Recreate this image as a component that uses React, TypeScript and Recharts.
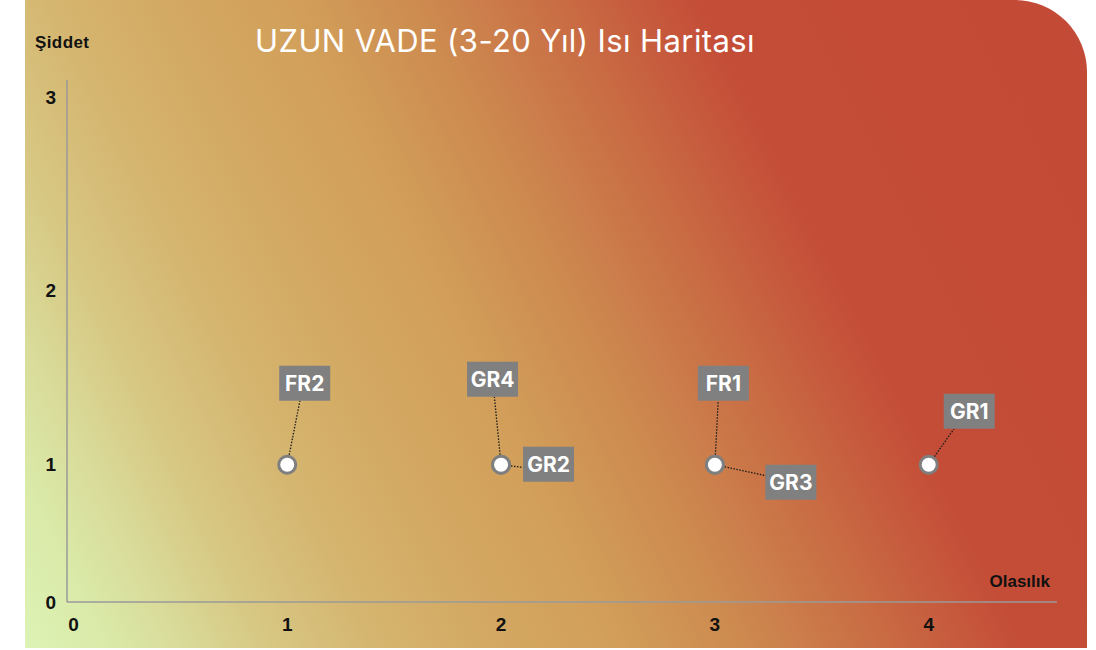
import React from 'react';
import { ScatterChart, Scatter, XAxis, YAxis } from 'recharts';

const riskCodes = ['FR2', 'GR4', 'GR2', 'FR1', 'GR3', 'GR1'];
const olasilik = [1, 2, 2, 3, 3, 4];
const siddet = [1, 1, 1, 1, 1, 1];
const xTicks = [0, 1, 2, 3, 4];
const yTicks = [0, 1, 2, 3];

const points = riskCodes.map((code, i) => ({ code, x: olasilik[i], y: siddet[i] }));

// label box offsets from the point centre (box centre + leader anchor)
const LABEL_POS: Record<string, { dx: number; dy: number; ax: number; ay: number }> = {
  FR2: { dx: 17.5, dy: -81.5, ax: 12.7, ay: -64 },
  GR4: { dx: -8.5, dy: -85.5, ax: -6.7, ay: -68 },
  GR2: { dx: 47.5, dy: -0.5, ax: 22, ay: 2.7 },
  FR1: { dx: 8.5, dy: -81.5, ax: 3.3, ay: -64 },
  GR3: { dx: 76, dy: 17.5, ax: 51.3, ay: 11 },
  GR1: { dx: 40.5, dy: -53.5, ax: 25.3, ay: -36 },
};

const AXIS_FONT = '"Liberation Sans", Arial, sans-serif';

/** small d3-like power scale (the y axis is stretched towards the top) */
function powScale(exponent: number, dom: number[] = [0, 1], rng: number[] = [0, 1]): any {
  let d = [...dom];
  let r = [...rng];
  const f = (v: number) => Math.sign(v) * Math.pow(Math.abs(v), exponent);
  const fi = (v: number) => Math.sign(v) * Math.pow(Math.abs(v), 1 / exponent);
  const scale: any = (v: number) => {
    const t = (f(v) - f(d[0])) / (f(d[1]) - f(d[0]));
    return r[0] + t * (r[1] - r[0]);
  };
  scale.domain = (x?: number[]) => {
    if (!x) return [...d];
    d = [...x];
    return scale;
  };
  scale.range = (x?: number[]) => {
    if (!x) return [...r];
    r = [...x];
    return scale;
  };
  scale.invert = (y: number) => {
    const t = (y - r[0]) / (r[1] - r[0]);
    return fi(f(d[0]) + t * (f(d[1]) - f(d[0])));
  };
  scale.ticks = () => yTicks;
  scale.copy = () => powScale(exponent, d, r);
  return scale;
}

const yScale = powScale(1.185);

function RiskPoint(props: any) {
  const { cx, cy, payload } = props;
  const pos = LABEL_POS[payload.code];
  const len = Math.hypot(pos.ax, pos.ay);
  const sx = cx + (pos.ax / len) * 10;
  const sy = cy + (pos.ay / len) * 10;
  return (
    <g>
      <line
        x1={sx}
        y1={sy}
        x2={cx + pos.ax}
        y2={cy + pos.ay}
        stroke="#1a1a1a"
        strokeWidth={1.3}
        strokeDasharray="1.5 1.5"
      />
      <rect x={cx + pos.dx - 25.5} y={cy + pos.dy - 17.5} width={51} height={35} fill="#808080" />
      <text
        x={cx + pos.dx}
        y={cy + pos.dy}
        dy="0.36em"
        textAnchor="middle"
        fill="#fff"
        fontSize={21}
        fontWeight={700}
        fontFamily="Inter, sans-serif"
      >
        {payload.code}
      </text>
      <circle cx={cx} cy={cy} r={8.5} fill="#fff" stroke="#7f7f7f" strokeWidth={3} />
    </g>
  );
}

export default function App() {
  const tickStyle = { fill: '#111', fontSize: 19, fontWeight: 700, fontFamily: AXIS_FONT };
  const axisLine = { stroke: '#9a9a9a', strokeWidth: 1.5 };
  return (
    <div style={{ position: 'absolute', left: 0, top: 0, width: 1096, height: 650 }}>
      <div
        style={{
          position: 'absolute',
          left: 25,
          top: 0,
          width: 1062,
          height: 648,
          borderTopRightRadius: 72,
          background:
            'linear-gradient(63.4deg, #dcf3b5 0%, #daeaa9 6%, #d9dc9a 11%, #d7c985 17%, #d5b670 25%, #d3a862 34%, #d2a05a 42%, #cd8a4f 52%, #c96c44 62%, #c44d37 72%, #c34a36 100%)',
        }}
      />
      <div style={{ position: 'absolute', left: 25, top: 0 }}>
        <ScatterChart width={1062} height={648} margin={{ top: 80, right: 30, bottom: 0, left: 0 }}>
          <XAxis
            type="number"
            dataKey="x"
            domain={[-0.03, 4.6]}
            ticks={xTicks}
            interval={0}
            allowDataOverflow
            height={46}
            tickSize={0}
            tickMargin={16}
            tickLine={false}
            axisLine={axisLine}
            tick={tickStyle}
          />
          <YAxis
            type="number"
            dataKey="y"
            domain={[0, 3.087]}
            ticks={yTicks}
            interval={0}
            allowDataOverflow
            scale={yScale}
            width={42}
            tickSize={0}
            tickMargin={11}
            tickLine={false}
            axisLine={axisLine}
            tick={tickStyle}
          />
          <Scatter data={points} shape={RiskPoint} isAnimationActive={false} />
        </ScatterChart>
      </div>
      <svg
        width={1096}
        height={650}
        style={{ position: 'absolute', left: 0, top: 0, pointerEvents: 'none' }}
      >
        <text
          x={505}
          y={52}
          textAnchor="middle"
          fill="#fff"
          fontSize={31}
          letterSpacing={0.4}
          fontFamily="Inter, sans-serif"
        >
          UZUN VADE (3-20 Yıl) Isı Haritası
        </text>
        <text x={35} y={48} fill="#111" fontSize={17} fontWeight={700} fontFamily={AXIS_FONT} letterSpacing={0.4}>
          Şiddet
        </text>
        <text x={1050} y={587} textAnchor="end" fill="#111" fontSize={17} fontWeight={700} fontFamily={AXIS_FONT}>
          Olasılık
        </text>
      </svg>
    </div>
  );
}
